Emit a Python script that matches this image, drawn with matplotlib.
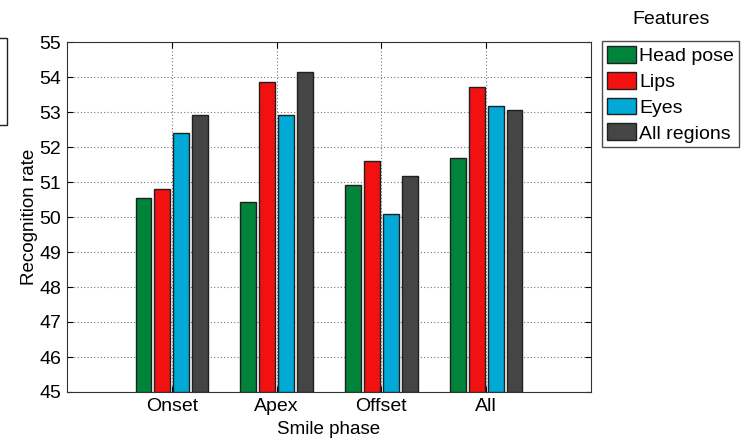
import matplotlib
matplotlib.use("Agg")
import matplotlib.pyplot as plt
import numpy as np
from matplotlib.patches import Patch, Rectangle

plt.rcParams['font.family'] = ['Liberation Sans', 'DejaVu Sans']

# data
phases = ["Onset", "Apex", "Offset", "All"]
features = ["Head pose", "Lips", "Eyes", "All regions"]
head_pose = [50.53, 50.42, 50.92, 51.68]
lips = [50.81, 53.85, 51.61, 53.71]
eyes = [52.40, 52.91, 50.08, 53.16]
all_regions = [52.91, 54.14, 51.16, 53.05]

series = [head_pose, lips, eyes, all_regions]
colors = ["#00843A", "#F21010", "#00A9D6", "#454545"]

fig = plt.figure(figsize=(7.43, 4.41), dpi=100)
ax = fig.add_axes([67 / 743, 49 / 441, 524 / 743, 350 / 441])

x = np.arange(1, len(phases) + 1)
width = 0.152
offsets = [-0.27, -0.09, 0.09, 0.27]
for vals, off, c in zip(series, offsets, colors):
    ax.bar(x + off, np.array(vals) - 45, width, bottom=45, color=c,
           edgecolor="#202020", linewidth=1.0, zorder=3)

ax.set_xlim(0, 5)
ax.set_ylim(45, 55)
ax.set_xticks(x)
ax.set_xticklabels(phases)
ax.set_yticks(np.arange(45, 56, 1))
ax.tick_params(direction="in", labelsize=14, length=4, top=True, right=True, pad=4)
ax.grid(True, linestyle=(0, (1, 2)), color="#777777", linewidth=0.8, zorder=0)
ax.set_axisbelow(True)
for s in ax.spines.values():
    s.set_color("#333333")

ax.set_xlabel("Smile phase", fontsize=13.5, labelpad=5)
ax.set_ylabel("Recognition rate", fontsize=13.5, labelpad=1)

handles = [Patch(facecolor=c, edgecolor="#202020", label=f) for c, f in zip(colors, features)]
leg = fig.legend(handles=handles, loc="upper left",
                 bbox_to_anchor=(602 / 743, 1 - 41 / 441), fontsize=14,
                 frameon=True, fancybox=False, edgecolor="#202020",
                 handlelength=1.5, handleheight=0.95, handletextpad=0.15,
                 labelspacing=0.35, borderpad=0.25, borderaxespad=0)
leg.get_frame().set_linewidth(1.0)
fig.text(671 / 743, 1 - 20 / 441, "Features", fontsize=14, ha="center", va="center")

# partial box cut off at the left edge
fig.patches.append(Rectangle((-0.01, 1 - 125 / 441), 0.01 + 7 / 743, 87 / 441,
                             transform=fig.transFigure, fill=False,
                             edgecolor="#202020", linewidth=1.0))

fig.savefig("out.png", dpi=100)
